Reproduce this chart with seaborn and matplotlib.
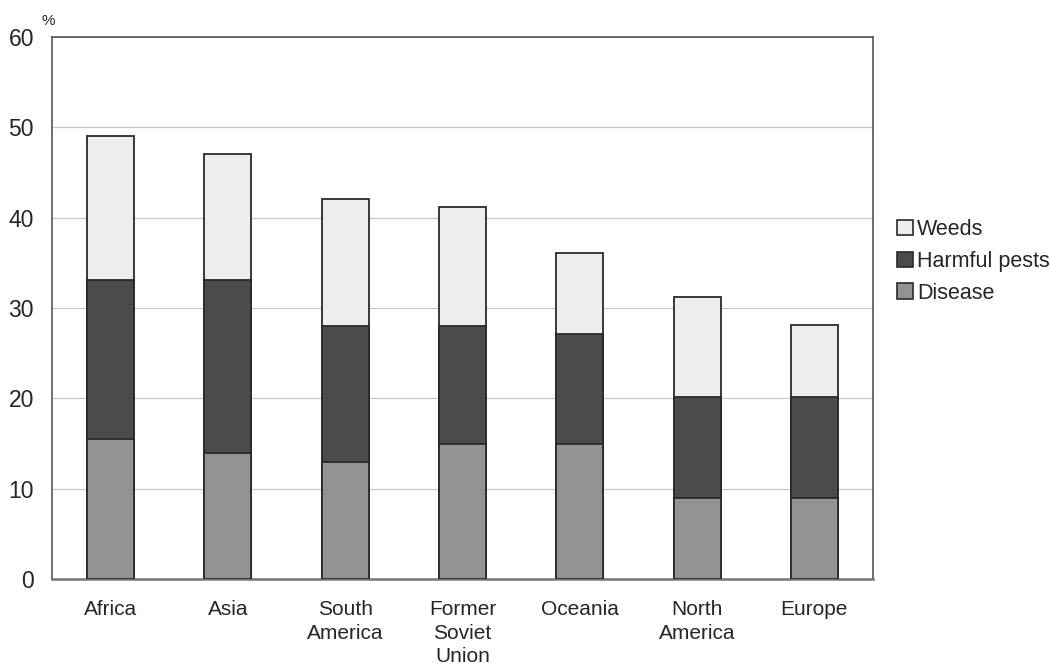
import numpy as np
import pandas as pd
import matplotlib
matplotlib.use("Agg")
import matplotlib.pyplot as plt
from matplotlib.patches import Patch
import seaborn as sns

# Crop loss by cause and region (%)
regions = ["Africa", "Asia", "South\nAmerica", "Former\nSoviet\nUnion",
           "Oceania", "North\nAmerica", "Europe"]
disease = [15.5, 14.0, 13.0, 15.0, 15.0, 9.0, 9.0]
harmful_pests = [17.6, 19.1, 15.0, 13.0, 12.1, 11.1, 11.1]
weeds = [15.9, 13.9, 14.1, 13.2, 9.0, 11.1, 8.0]

series_names = ["Weeds", "Harmful pests", "Disease"]
y_ticks = [0, 10, 20, 30, 40, 50, 60]

sns.set_theme(style="white")
plt.rcParams["font.family"] = ["Liberation Sans", "DejaVu Sans"]

df = pd.DataFrame({
    "region": regions,
    "Disease": disease,
    "Harmful pests": harmful_pests,
    "Weeds": weeds,
})
df["lvl_disease"] = df["Disease"]
df["lvl_pests"] = df["Disease"] + df["Harmful pests"]
df["lvl_weeds"] = df["lvl_pests"] + df["Weeds"]

colors = {"Weeds": "#ededed", "Harmful pests": "#4b4b4b", "Disease": "#939393"}
edge = "#2a2a2a"

fig = plt.figure(figsize=(10.5, 6.68), dpi=100)
fig.patch.set_facecolor("white")
ax = fig.add_axes([52 / 1050, 1 - 579 / 668, (873 - 52) / 1050, (579 - 37) / 668])

# stacked segments: draw the cumulative levels from top to bottom
for col, name in [("lvl_weeds", "Weeds"), ("lvl_pests", "Harmful pests"),
                  ("lvl_disease", "Disease")]:
    sns.barplot(data=df, x="region", y=col, order=regions, color=colors[name],
                saturation=1, width=0.4, edgecolor=edge, linewidth=1.3,
                ax=ax, zorder=3)

ax.set_xlim(-0.5, len(regions) - 0.5)
ax.set_ylim(0, 60)
ax.set_yticks(y_ticks)
ax.set_yticklabels([str(v) for v in y_ticks], fontsize=16.5)
ax.set_xlabel("")
ax.set_ylabel("")

# category labels below the axis, boundary ticks on the axis
ax.set_xticks(np.arange(len(regions)))
ax.set_xticklabels(regions, fontsize=15, linespacing=1.32, va="top")
ax.tick_params(axis="x", length=0, pad=15)
ax.set_xticks(np.arange(len(regions) + 1) - 0.5, minor=True)
ax.tick_params(axis="x", which="minor", direction="in", length=5,
               width=1, color="#777777")
ax.tick_params(axis="y", direction="inout", length=8, width=1,
               color="#555555", pad=9)

ax.yaxis.grid(True, color="#c9c9c9", linewidth=0.9, zorder=0)
ax.set_axisbelow(True)

for side in ["left", "top", "right"]:
    ax.spines[side].set_visible(True)
    ax.spines[side].set_color("#555555")
    ax.spines[side].set_linewidth(1.2)
ax.spines["bottom"].set_color("#777777")
ax.spines["bottom"].set_linewidth(1.8)

fig.text(41 / 1050, 1 - 21 / 668, "%", fontsize=11, ha="left", va="center")

handles = [Patch(facecolor=colors[n], edgecolor=edge, linewidth=1.2, label=n)
           for n in series_names]
fig.legend(handles=handles, loc="upper left",
           bbox_to_anchor=(897 / 1050, 1 - 219 / 668), frameon=False,
           fontsize=15.5, handlelength=0.72, handleheight=0.72,
           handletextpad=0.2, labelspacing=0.5, borderaxespad=0,
           borderpad=0)

fig.savefig("out.png", dpi=100, facecolor="white")
